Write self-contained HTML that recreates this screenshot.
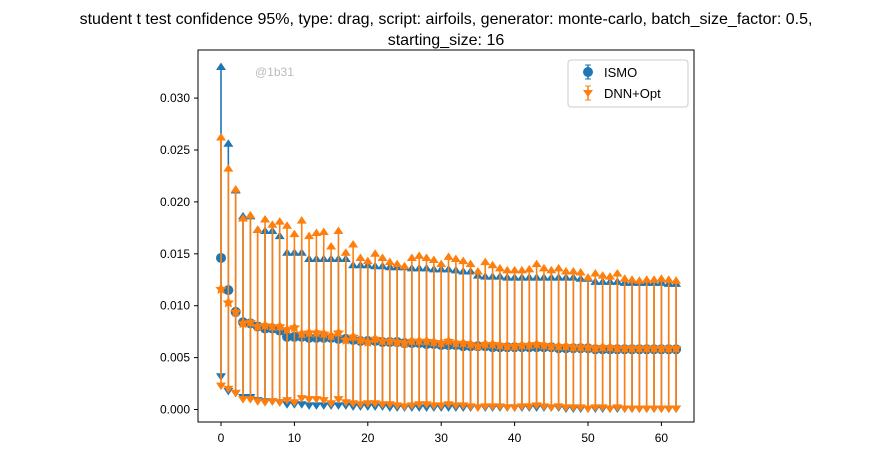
<!DOCTYPE html>
<html><head><meta charset="utf-8"><style>
body{margin:0;background:#fff;}
svg{font-family:"Liberation Sans","DejaVu Sans",sans-serif;}
</style></head><body>
<svg id="chart" width="892" height="456" xmlns="http://www.w3.org/2000/svg">
<text x="446" y="24" font-size="16" text-anchor="middle">student t test confidence 95%, type: drag, script: airfoils, generator: monte-carlo, batch_size_factor: 0.5,</text>
<text x="446" y="45" font-size="16" text-anchor="middle">starting_size: 16</text>
<text x="255" y="76" font-size="12" fill="#bbb">@1b31</text>
<g id="plot"></g>
<rect x="198" y="50" width="496" height="372" fill="none" stroke="#000" stroke-width="1"/>
<g>
<rect x="568" y="60" width="120" height="47" rx="3" fill="#fff" fill-opacity="0.8" stroke="#ccc"/>
<g>
<line x1="588" y1="65" x2="588" y2="79" stroke="#1f77b4" stroke-width="1.5"/><line x1="585" y1="65" x2="591" y2="65" stroke="#1f77b4"/><line x1="585" y1="79" x2="591" y2="79" stroke="#1f77b4"/>
<circle cx="588" cy="72" r="5" fill="#1f77b4"/>
<text x="604" y="77" font-size="13">ISMO</text></g>
<g>
<line x1="588" y1="86" x2="588" y2="100" stroke="#ff7f0e" stroke-width="1.5"/><line x1="585" y1="86" x2="591" y2="86" stroke="#ff7f0e"/><line x1="585" y1="100" x2="591" y2="100" stroke="#ff7f0e"/>
<polygon points="583,90 593,90 588,97" fill="#ff7f0e"/>
<text x="604" y="98" font-size="13">DNN+Opt</text></g>
</g>
</svg>
<script>
const xTicks=[0,10,20,30,40,50,60];
const yTicks=[0,0.005,0.010,0.015,0.020,0.025,0.030];
const yTickLabels=["0.000","0.005","0.010","0.015","0.020","0.025","0.030"];
const ismoMean=[14.6,11.5,9.4,8.4,8.3,8.0,7.8,7.8,7.6,7.0,7.0,7.0,6.9,6.9,6.9,6.9,6.8,6.8,6.7,6.6,6.6,6.6,6.5,6.5,6.5,6.4,6.4,6.4,6.3,6.3,6.2,6.2,6.2,6.1,6.1,6.1,6.1,6.0,6.0,6.0,6.0,6.0,6.0,6.0,6.0,6.0,5.9,5.9,5.9,5.9,5.9,5.8,5.8,5.8,5.8,5.8,5.8,5.8,5.8,5.8,5.8,5.8,5.8];
const ismoUpper=[33.0,25.6,21.1,18.6,18.6,17.3,17.2,17.2,16.7,15.1,15.1,15.1,14.5,14.5,14.5,14.5,14.5,14.5,13.9,13.9,13.9,13.8,13.8,13.7,13.7,13.7,13.6,13.6,13.6,13.5,13.5,13.5,13.4,13.3,13.3,12.9,12.8,12.8,12.8,12.7,12.7,12.7,12.7,12.7,12.7,12.7,12.7,12.7,12.7,12.6,12.6,12.3,12.3,12.3,12.3,12.2,12.2,12.2,12.2,12.2,12.2,12.1,12.1];
const ismoLower=[3.2,1.8,1.6,1.2,1.2,0.9,0.8,0.8,0.7,0.5,0.5,0.5,0.4,0.4,0.4,0.4,0.4,0.4,0.3,0.3,0.3,0.3,0.3,0.2,0.2,0.2,0.2,0.2,0.2,0.2,0.2,0.2,0.2,0.2,0.2,0.2,0.2,0.2,0.2,0.2,0.2,0.2,0.2,0.2,0.2,0.2,0.2,0.1,0.1,0.1,0.1,0.1,0.1,0.1,0.1,0.1,0.1,0.1,0.1,0.1,0.1,0.1,0.1];
const dnnMean=[11.6,10.3,9.4,8.3,8.4,8.0,8.1,8.0,8.0,7.7,7.9,7.3,7.4,7.4,7.3,7.1,7.4,6.7,7.0,6.7,6.5,6.8,6.6,6.6,6.5,6.4,6.6,6.6,6.6,6.5,6.4,6.6,6.4,6.4,6.3,6.1,6.3,6.3,6.2,6.1,6.1,6.2,6.2,6.3,6.2,6.1,6.1,6.1,6.0,6.0,6.0,5.9,6.0,6.0,5.9,5.9,5.9,5.9,5.9,5.9,5.9,5.9,5.9];
const dnnUpper=[26.2,23.2,21.2,18.4,18.7,17.3,18.3,17.8,18.1,17.7,16.9,18.2,16.7,17.0,17.1,15.7,17.2,15.1,15.9,14.6,14.3,15.0,14.6,14.2,14.0,13.8,14.6,14.8,14.6,14.4,14.0,14.7,14.5,14.3,14.0,13.3,14.2,13.9,13.6,13.4,13.4,13.4,13.5,14.0,13.6,13.4,13.6,13.3,13.3,13.2,12.7,13.1,12.9,12.8,13.1,12.6,12.5,12.4,12.5,12.5,12.6,12.5,12.4];
const dnnLower=[2.3,2.0,1.6,1.0,1.0,0.8,0.7,0.8,0.7,0.9,0.7,1.1,1.0,1.0,0.9,0.6,1.0,0.7,0.6,0.5,0.6,0.6,0.5,0.5,0.4,0.3,0.4,0.5,0.5,0.4,0.4,0.5,0.4,0.4,0.3,0.2,0.3,0.3,0.3,0.2,0.2,0.3,0.3,0.4,0.3,0.2,0.3,0.2,0.2,0.2,0.1,0.2,0.2,0.1,0.2,0.1,0.1,0.1,0.1,0.1,0.1,0.1,0.1];
const NS="http://www.w3.org/2000/svg";
function xS(v){return 221+v*7.34;}
function yS(v){return 409.5-v*10380;}
const svg=document.getElementById('chart');
const plot=document.getElementById('plot');
function mk(tag,attrs,parent){const e=document.createElementNS(NS,tag);for(const k in attrs)e.setAttribute(k,attrs[k]);(parent||plot).appendChild(e);return e;}
xTicks.forEach(t=>{
 const g=mk('g',{},svg);
 
 
 mk('line',{x1:xS(t),x2:xS(t),y1:422,y2:426,stroke:'#000'},g);
 const tx=mk('text',{x:xS(t),y:442,'font-size':12,'text-anchor':'middle'},g);tx.textContent=t;
});
yTicks.forEach((t,i)=>{
 const g=mk('g',{},svg);
 
 
 mk('line',{x1:194,x2:198,y1:yS(t),y2:yS(t),stroke:'#000'},g);
 const tx=mk('text',{x:190,y:yS(t)+4,'font-size':12,'text-anchor':'end'},g);tx.textContent=yTickLabels[i];
});
function tri(x,y,up,col,g){const s=5;const p=up?`${x-s},${y+s*0.6} ${x+s},${y+s*0.6} ${x},${y-s*0.9}`:`${x-s},${y-s*0.6} ${x+s},${y-s*0.6} ${x},${y+s*0.9}`;mk('polygon',{points:p,fill:col},g);}
function star(x,y,r,col,g){let p=[];for(let k=0;k<10;k++){const a=-Math.PI/2+k*Math.PI/5;const rr=k%2?r*0.5:r;p.push((x+rr*Math.cos(a)).toFixed(1)+','+(y+rr*Math.sin(a)).toFixed(1));}mk('polygon',{points:p.join(' '),fill:col},g);}
function series(mean,up,lo,col,name,isStar){
 const g=mk('g',{});
 
 
 mean.forEach((m,i)=>{
  const x=xS(i);
  const pt=mk('g',{},g);
  
  
  mk('line',{x1:x,x2:x,y1:yS(up[i]/1000),y2:yS(lo[i]/1000),stroke:col,'stroke-width':1.6},pt);
  tri(x,yS(up[i]/1000),true,col,pt);
  tri(x,yS(lo[i]/1000),false,col,pt);
  if(isStar)star(x,yS(m/1000),6,col,pt);else mk('circle',{cx:x,cy:yS(m/1000),r:5,fill:col},pt);
 });
}
series(ismoMean,ismoUpper,ismoLower,'#1f77b4','ismo-series',false);
series(dnnMean,dnnUpper,dnnLower,'#ff7f0e','dnn-opt-series',true);
</script>
</body></html>
